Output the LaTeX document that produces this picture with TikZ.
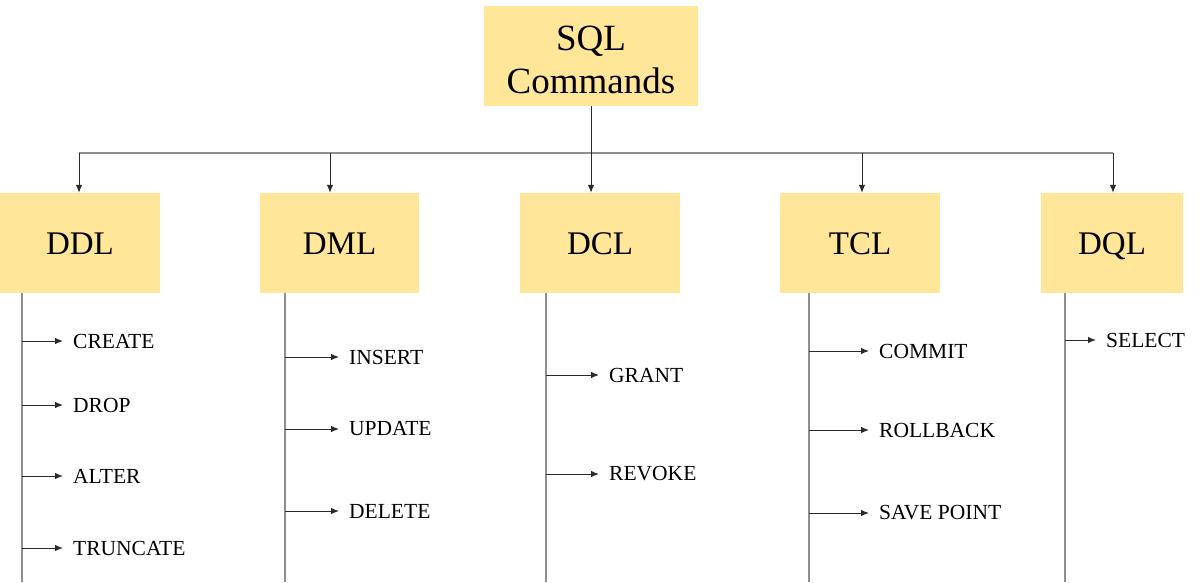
\documentclass[tikz,border=0pt]{standalone}
\usepackage{fontspec}
\setmainfont{Liberation Serif}
\usetikzlibrary{arrows.meta,calc}
\definecolor{boxfill}{HTML}{FFE699}
\definecolor{trunkgray}{HTML}{8E8E8E}
\definecolor{arrgray}{HTML}{2A2A2A}
\tikzset{
  catbox/.style={fill=boxfill,draw=none,minimum height=100pt,inner sep=0pt,text height=22pt,text depth=0pt,font=\fontsize{33}{38}\selectfont},
  topbox/.style={fill=boxfill,draw=none,minimum width=214pt,minimum height=100pt,inner sep=0pt,align=center,font=\fontsize{37}{43}\selectfont},
  leaf/.style={anchor=west,inner sep=0pt,font=\fontsize{21.5}{25}\selectfont},
  arr/.style={draw=arrgray,line width=1pt,-{Latex[length=8pt,width=6.5pt]}},
  trunk/.style={draw=trunkgray,line width=1.4pt},
  bus/.style={draw=trunkgray,line width=1.2pt},
}
\begin{document}
\begin{tikzpicture}[x=1pt,y=-1pt]
\useasboundingbox (0,0) rectangle (1200,582);
% top
\node[topbox] (sql) at (591,56) {\rule{0pt}{32pt}SQL\\Commands};
% category boxes
\node[catbox,minimum width=160pt] (ddl) at (80,243) {DDL};
\node[catbox,minimum width=159pt] (dml) at (339.5,243) {DML};
\node[catbox,minimum width=160pt] (dcl) at (600,243) {DCL};
\node[catbox,minimum width=160pt] (tcl) at (860,243) {TCL};
\node[catbox,minimum width=142pt] (dql) at (1112,243) {DQL};
% bus
\coordinate (bL) at (79,153);
\coordinate (bR) at (1113,153);
\coordinate (bDDL) at (79,153);
\coordinate (bDML) at (330,153);
\coordinate (bDCL) at (591,153);
\coordinate (bTCL) at (862,153);
\coordinate (bDQL) at (1113,153);
\draw[bus] (bL) -- (bR);
\draw[arr] (sql.south) -- (bDCL |- dcl.north);
\draw[arr] (bDDL) -- (bDDL |- ddl.north);
\draw[arr] (bDML) -- (bDML |- dml.north);
\draw[arr] (bTCL) -- (bTCL |- tcl.north);
\draw[arr] (bDQL) -- (bDQL |- dql.north);
% trunks
\coordinate (tDDL) at (22,293);   \coordinate (eDDL) at (22,582);
\coordinate (tDML) at (285,293);  \coordinate (eDML) at (285,582);
\coordinate (tDCL) at (546,293);  \coordinate (eDCL) at (546,582);
\coordinate (tTCL) at (809,293);  \coordinate (eTCL) at (809,582);
\coordinate (tDQL) at (1065,293); \coordinate (eDQL) at (1065,582);
\draw[trunk] (tDDL) -- (eDDL);
\draw[trunk] (tDML) -- (eDML);
\draw[trunk] (tDCL) -- (eDCL);
\draw[trunk] (tTCL) -- (eTCL);
\draw[trunk] (tDQL) -- (eDQL);
% leaves
\node[leaf] (create) at (73,341) {CREATE};
\node[leaf] (drop) at (73,405) {DROP};
\node[leaf] (alter) at (73,476) {ALTER};
\node[leaf] (truncate) at (73,548) {TRUNCATE};
\node[leaf] (insert) at (349,357) {INSERT};
\node[leaf] (update) at (349,429) {UPDATE};
\node[leaf] (delete) at (349,511) {DELETE};
\node[leaf] (grant) at (609,375) {GRANT};
\node[leaf] (revoke) at (609,474) {REVOKE};
\node[leaf] (commit) at (879,351) {COMMIT};
\node[leaf] (rollback) at (879,430) {ROLLBACK};
\node[leaf] (savepoint) at (879,513) {SAVE POINT};
\node[leaf] (select) at (1106,340) {SELECT};
\foreach \t/\l in {tDDL/create,tDDL/drop,tDDL/alter,tDDL/truncate,
                   tDML/insert,tDML/update,tDML/delete,
                   tDCL/grant,tDCL/revoke,
                   tTCL/commit,tTCL/rollback,tTCL/savepoint,
                   tDQL/select}
  \draw[arr] (\t |- \l.west) -- ([xshift=-10pt]\l.west);
\end{tikzpicture}
\end{document}
